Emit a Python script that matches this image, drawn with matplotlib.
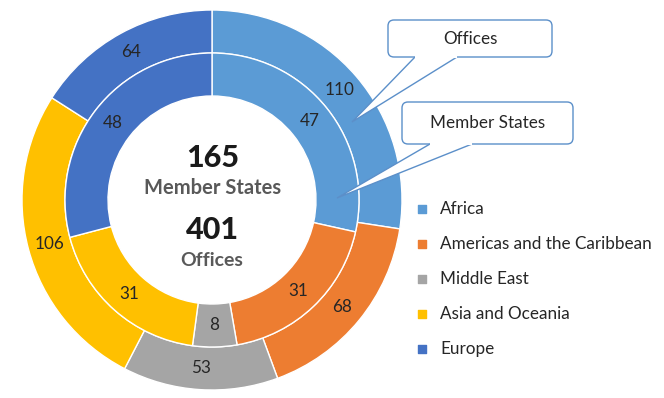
import matplotlib.pyplot as plt
from matplotlib.patches import FancyBboxPatch, Polygon

# ── Data ──────────────────────────────────────────────────────────
regions = ['Africa', 'Americas and the Caribbean', 'Middle East',
           'Asia and Oceania', 'Europe']
offices = [110, 68, 53, 106, 64]
member_states = [47, 31, 8, 31, 48]
colors = ['#5B9BD5', '#ED7D31', '#A5A5A5', '#FFC000', '#4472C4']

plt.rcParams['font.family'] = ['Lato', 'DejaVu Sans']
FS = 12.3

fig = plt.figure(figsize=(6.64, 3.98), dpi=100)
ax = fig.add_axes([0, 0, 1, 1])

cx, cy = 212, 198
r_out, r_mid, r_in = 190, 147, 104

# outer ring – offices
ax.pie(offices, colors=colors, startangle=90, counterclock=False,
       center=(cx, cy), radius=r_out, frame=True,
       wedgeprops=dict(width=r_out - r_mid, edgecolor='white', linewidth=1),
       labels=[str(v) for v in offices], labeldistance=(r_out + r_mid) / 2 / r_out,
       textprops=dict(fontsize=FS, color='#262626', ha='center', va='center'))

# inner ring – member states
ax.pie(member_states, colors=colors, startangle=90, counterclock=False,
       center=(cx, cy), radius=r_mid, frame=True,
       wedgeprops=dict(width=r_mid - r_in, edgecolor='white', linewidth=1),
       labels=[str(v) for v in member_states], labeldistance=(r_mid + r_in) / 2 / r_mid,
       textprops=dict(fontsize=FS, color='#262626', ha='center', va='center'))

ax.set_xlim(0, 664)
ax.set_ylim(0, 398)
ax.set_aspect('equal')
ax.axis('off')

# centre totals
ax.text(cx + 1, 398 - 158, str(sum(member_states)), ha='center', va='center',
        fontsize=22, fontweight=900, color='#1a1a1a')
ax.text(cx + 1, 398 - 188, 'Member States', ha='center', va='center',
        fontsize=14.5, fontweight='bold', color='#595959')
ax.text(cx, 398 - 230, str(sum(offices)), ha='center', va='center',
        fontsize=22, fontweight=900, color='#1a1a1a')
ax.text(cx, 398 - 261, 'Offices', ha='center', va='center',
        fontsize=14, fontweight='bold', color='#595959')

# callouts
def callout(x0, x1, y0, y1, base, tip, text):
    box = FancyBboxPatch((x0, 398 - y1), x1 - x0, y1 - y0,
                         boxstyle='round,pad=0,rounding_size=6',
                         facecolor='white', edgecolor='#5B8FC9', linewidth=1, zorder=5)
    ax.add_patch(box)
    tri = Polygon([(base[0], 398 - y1), (tip[0], 398 - tip[1]), (base[1], 398 - y1)],
                  closed=False, facecolor='white', edgecolor='#5B8FC9',
                  linewidth=1, zorder=6)
    ax.add_patch(tri)
    ax.plot([base[0] + 1, base[1] - 1], [398 - y1, 398 - y1], color='white', lw=1.5, zorder=7)
    ax.text((x0 + x1) / 2, 398 - (y0 + y1) / 2, text, ha='center', va='center',
            fontsize=FS, color='#262626', zorder=8)

callout(388, 552, 20, 57, (415, 457), (352, 122), 'Offices')
callout(402, 573, 102, 144, (430, 472), (337, 198), 'Member States')

# legend
for i, (name, c) in enumerate(zip(regions, colors)):
    y = 398 - (209 + 35 * i)
    ax.scatter(422, y, marker='s', s=40, color=c, zorder=5)
    ax.text(440, y, name, ha='left', va='center', fontsize=FS, color='#262626')

plt.savefig('out.png', dpi=100)
